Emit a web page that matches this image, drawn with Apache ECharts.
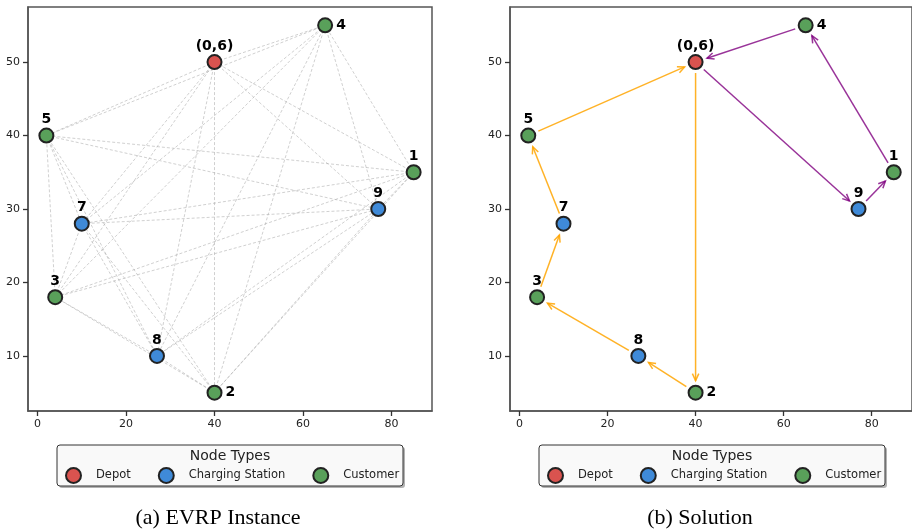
<!DOCTYPE html>
<html>
<head>
<meta charset="utf-8">
<title>EVRP instance and solution</title>
<script src="https://cdn.jsdelivr.net/npm/echarts@6/dist/echarts.min.js"></script>
<style>
  html, body { margin: 0; padding: 0; background: #fff; }
  #chart { width: 912px; height: 530px; }
</style>
</head>
<body>
<div id="chart"></div>
<script>
// node data
const nodeIds = ["(0,6)", "1", "2", "3", "4", "5", "7", "8", "9"];
const nodeX = [40, 85, 40, 4, 65, 2, 10, 27, 77];
const nodeY = [50, 35, 5, 18, 55, 40, 28, 10, 30];
const nodeTypes = ["Depot", "Customer", "Customer", "Customer", "Customer", "Customer",
  "Charging Station", "Charging Station", "Charging Station"];
const typeNames = ["Depot", "Charging Station", "Customer"];

// solution routes (node ids in visiting order)
const routeOrange = ["(0,6)", "2", "8", "3", "7", "5", "(0,6)"];
const routePurple = ["(0,6)", "9", "1", "4", "(0,6)"];

// tick labels
const xTicks = [0, 20, 40, 60, 80];
const yTicks = [10, 20, 30, 40, 50];

const typeColors = { "Depot": "#d9534f", "Charging Station": "#3f8ad8", "Customer": "#59a05a" };
const labelRight = ["4", "2"];
const font = "DejaVu Sans";

const chart = echarts.init(document.getElementById("chart"));

const idx = (id) => nodeIds.indexOf(id);

// all pairs of nodes for the instance graph
const edgeData = [];
for (let i = 0; i < nodeIds.length; i++) {
  for (let j = i + 1; j < nodeIds.length; j++) {
    edgeData.push({ coords: [[nodeX[i], nodeY[i]], [nodeX[j], nodeY[j]]] });
  }
}

const routeData = [];
[routeOrange, routePurple].forEach((route, r) => {
  for (let k = 0; k < route.length - 1; k++) {
    const a = idx(route[k]), b = idx(route[k + 1]);
    routeData.push([nodeX[a], nodeY[a], nodeX[b], nodeY[b], r]);
  }
});
const routeColors = ["rgba(255,165,0,0.85)", "rgba(128,0,128,0.8)"];

const makeAxis = (gi, min, max, ticks) => ({
  gridIndex: gi,
  type: "value",
  min: min,
  max: max,
  splitLine: { show: false },
  axisLine: { show: true, onZero: false, lineStyle: { color: "#555", width: 1.5 } },
  axisTick: { show: true, inside: false, length: 5, lineStyle: { color: "#333", width: 1.3 }, customValues: ticks },
  axisLabel: { color: "#222", fontFamily: font, fontSize: 11, margin: 8, customValues: ticks }
});

const nodeSeries = (gi) => typeNames.map((t) => ({
  name: t,
  type: "scatter",
  xAxisIndex: gi,
  yAxisIndex: gi,
  symbol: "circle",
  symbolSize: 14,
  z: 5,
  itemStyle: { color: typeColors[t], borderColor: "#222", borderWidth: 2, opacity: 1 },
  label: {
    show: true,
    fontFamily: font,
    fontWeight: "bold",
    fontSize: 14,
    color: "#000",
    formatter: (p) => p.value[2]
  },
  data: nodeIds.map((id, i) => ({ id, i })).filter((o) => nodeTypes[o.i] === t).map((o) => ({
    value: [nodeX[o.i], nodeY[o.i], o.id],
    label: labelRight.includes(o.id) ? { position: "right", distance: 3 } : { position: "top", distance: 1 }
  }))
}));

const legendFor = (left) => ({
  data: typeNames,
  left: left,
  top: 462,
  orient: "horizontal",
  icon: "circle",
  itemWidth: 15,
  itemHeight: 15,
  itemGap: 27,
  textStyle: { fontFamily: font, fontSize: 11.5, color: "#222", padding: [0, 0, 0, 10] },
  selectedMode: false
});

const legendBox = (x) => ([
  {
    type: "rect",
    shape: { x: x + 2, y: 447, width: 346, height: 41, r: 3 },
    style: { fill: "rgba(0,0,0,0.3)" },
    z: -2
  },
  {
    type: "rect",
    shape: { x: x, y: 445, width: 346, height: 41, r: 3 },
    style: { fill: "#f9f9f9", stroke: "#333", lineWidth: 1 },
    z: -1
  },
  {
    type: "text",
    x: x + 173, y: 456,
    style: { text: "Node Types", fontFamily: font, fontSize: 14, fill: "#222", textAlign: "center", textVerticalAlign: "middle" }
  }
]);

chart.setOption({
  animation: false,
  backgroundColor: "#fff",
  grid: [
    { left: 28, top: 7, width: 404, height: 404, show: true, borderColor: "#555", borderWidth: 1.5, backgroundColor: "#fff" },
    { left: 510, top: 7, width: 404, height: 404, show: true, borderColor: "#555", borderWidth: 1.5, backgroundColor: "#fff" }
  ],
  xAxis: [makeAxis(0, -2.15, 89.15, xTicks), makeAxis(1, -2.15, 89.15, xTicks)],
  yAxis: [makeAxis(0, 2.5, 57.5, yTicks), makeAxis(1, 2.5, 57.5, yTicks)],
  legend: [legendFor(60), legendFor(542)],
  graphic: [
    ...legendBox(57),
    ...legendBox(539),
    {
      type: "text", x: 218, y: 518,
      style: { text: "(a) EVRP Instance", fontFamily: "Liberation Serif", fontSize: 22, fill: "#000", textAlign: "center", textVerticalAlign: "middle" }
    },
    {
      type: "text", x: 700, y: 518,
      style: { text: "(b) Solution", fontFamily: "Liberation Serif", fontSize: 22, fill: "#000", textAlign: "center", textVerticalAlign: "middle" }
    }
  ],
  series: [
    {
      name: "edges",
      type: "lines",
      coordinateSystem: "cartesian2d",
      xAxisIndex: 0,
      yAxisIndex: 0,
      silent: true,
      z: 1,
      lineStyle: { color: "#aaa", width: 0.8, type: [3, 2], opacity: 0.7 },
      data: edgeData
    },
    ...nodeSeries(0),
    {
      name: "routes",
      type: "custom",
      xAxisIndex: 1,
      yAxisIndex: 1,
      silent: true,
      z: 2,
      encode: { x: [0, 2], y: [1, 3] },
      renderItem: (params, api) => {
        const p1 = api.coord([api.value(0), api.value(1)]);
        const p2 = api.coord([api.value(2), api.value(3)]);
        const color = routeColors[api.value(4)];
        const dx = p2[0] - p1[0], dy = p2[1] - p1[1];
        const len = Math.sqrt(dx * dx + dy * dy);
        const ux = dx / len, uy = dy / len;
        const s = [p1[0] + ux * 11, p1[1] + uy * 11];
        const e = [p2[0] - ux * 12, p2[1] - uy * 12];
        const hl = 7, hw = 3.2;
        const h1 = [e[0] - ux * hl - uy * hw, e[1] - uy * hl + ux * hw];
        const h2 = [e[0] - ux * hl + uy * hw, e[1] - uy * hl - ux * hw];
        const st = { stroke: color, lineWidth: 1.5, fill: null };
        return {
          type: "group",
          children: [
            { type: "line", shape: { x1: s[0], y1: s[1], x2: e[0], y2: e[1] }, style: st },
            { type: "polyline", shape: { points: [h1, e, h2] }, style: st }
          ]
        };
      },
      data: routeData
    },
    ...nodeSeries(1)
  ]
});
</script>
</body>
</html>
